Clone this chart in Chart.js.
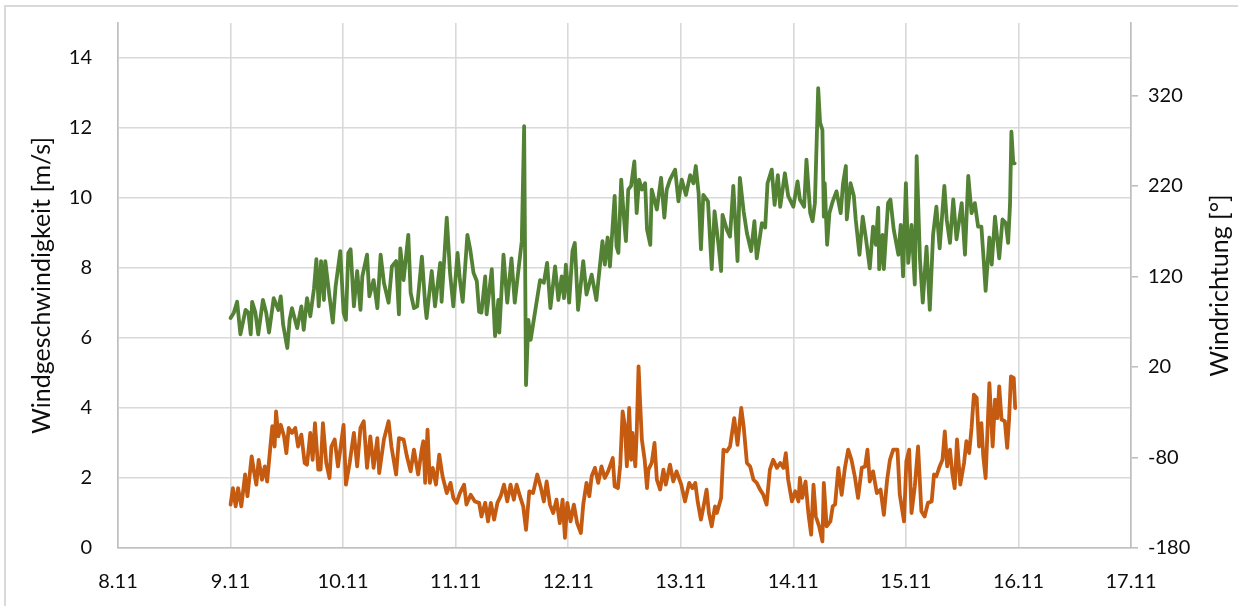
<!DOCTYPE html>
<html>
<head>
<meta charset="utf-8">
<script src="https://cdn.jsdelivr.net/npm/chart.js@4/dist/chart.umd.min.js"></script>
<style>
  body { margin: 0; background: #fff; }
  #wrap { position: relative; width: 1238px; height: 606px; overflow: hidden; background: #fff; }
  #frame { position: absolute; left: 4px; top: 5px; width: 1260px; height: 640px; border: 2px solid #d9d9d9; }
  canvas { position: absolute; left: 0; top: 0; }
</style>
</head>
<body>
<div id="wrap"><div id="frame"></div><canvas id="chart" width="1238" height="606"></canvas></div>
<script>
// x axis: days 8.11 .. 17.11, data time in hours since 9.11 00:00
const dayLabels = ['8.11', '9.11', '10.11', '11.11', '12.11', '13.11', '14.11', '15.11', '16.11', '17.11'];
const speedTicks = [0, 2, 4, 6, 8, 10, 12, 14];
const dirTicks = [-180, -80, 20, 120, 220, 320];

// Windgeschwindigkeit [m/s] (orange)
const speedHours = [0,0.5,1.1,1.6,2.3,3.1,3.6,4.5,5.0,5.5,6.0,6.7,7.3,7.8,8.3,8.9,9.4,9.7,10.2,10.7,11.4,11.9,12.4,13.1,13.8,14.4,15.1,15.8,16.3,17.0,17.5,18.0,18.7,19.2,19.7,20.4,21.1,21.5,22.2,22.9,23.4,24.1,24.6,25.4,26.3,27.0,27.7,28.4,29.1,29.8,30.5,31.3,31.7,32.7,33.7,34.3,35.3,35.9,36.9,37.6,38.4,39.1,40.0,40.8,41.1,41.5,42.0,42.5,43.1,43.8,44.5,45.2,46.1,46.9,47.5,48.2,48.9,49.8,50.3,51.2,52.1,53.0,53.5,54.3,54.9,55.5,56.2,56.9,57.6,58.3,59.0,59.7,60.4,61.0,61.7,62.4,63.0,63.7,64.5,65.4,66.1,66.8,67.4,68.1,68.8,69.5,70.2,70.8,71.3,71.8,72.5,73.2,73.9,74.7,75.2,75.9,76.5,77.0,77.7,78.4,79.1,79.8,80.5,81.5,81.9,82.6,83.1,83.6,84.1,84.5,85.0,85.4,85.7,86.3,86.6,87.0,87.3,87.7,88.3,88.8,89.1,89.8,90.4,90.9,91.6,92.3,92.8,93.7,94.4,95.1,96.1,96.9,97.8,98.5,99.1,99.6,100.3,101.0,101.5,102.0,102.6,103.3,103.7,104.6,105.1,105.8,106.5,107.4,108.1,108.9,109.4,110.1,110.8,111.5,112.2,112.9,113.6,114.3,115.0,115.7,116.5,117.2,117.9,118.4,118.9,119.7,120.4,121.1,121.4,121.9,122.6,123.2,123.8,124.3,124.8,125.5,126.2,126.5,127.1,127.9,128.4,128.9,129.6,130.3,131.0,131.7,132.4,133.1,133.8,134.6,135.3,135.8,136.3,137.0,137.8,138.6,139.3,140.0,140.6,141.3,142.2,142.7,143.6,144.1,144.7,145.2,145.9,146.6,147.3,148.0,148.7,149.5,150.0,150.5,151.2,151.8,152.3,152.8,153.4,153.9,154.4,154.9,155.6,156.4,156.9,157.5,158.0,158.5,159.1,159.6,160.1,160.5,161.0,161.8,162.5,163.0,163.5,163.9,164.4,165.1,165.6,166.0,166.4,167.0,167.3];
const speedValues = [1.24,1.71,1.19,1.71,1.19,2.10,1.48,2.62,2.19,1.81,2.52,1.95,2.33,1.90,2.62,3.48,2.90,3.90,3.19,3.52,3.19,2.71,3.43,3.29,3.43,2.90,3.24,2.43,2.38,3.29,2.52,3.57,2.24,2.24,3.57,2.43,2.00,2.90,3.10,2.33,2.81,3.52,1.81,2.43,3.29,2.33,3.43,3.62,2.29,3.19,2.29,3.14,2.14,3.10,3.62,2.90,2.10,3.14,3.10,2.62,2.19,2.81,2.10,2.85,3.05,1.86,3.38,1.86,2.29,1.81,2.67,2.05,1.57,1.86,1.43,1.29,1.57,1.81,1.24,1.52,1.33,1.29,0.90,1.29,0.76,1.29,0.81,1.29,1.48,1.81,1.33,1.81,1.38,1.81,1.48,1.19,0.52,1.62,1.57,2.10,1.76,1.33,1.90,1.24,1.00,1.38,0.71,1.38,0.29,1.29,0.76,1.24,0.71,0.43,1.24,1.86,1.48,2.05,2.29,1.86,2.33,2.00,2.19,2.57,1.76,1.71,2.38,3.90,3.48,2.33,4.00,2.52,3.29,2.33,3.29,5.19,4.24,3.10,2.52,1.71,2.24,2.43,3.00,1.95,1.67,2.24,1.81,2.38,1.90,2.19,1.81,1.33,1.86,1.71,1.86,1.33,0.81,1.29,1.67,1.00,0.62,1.19,1.00,1.43,2.81,2.76,2.90,3.71,2.95,4.00,3.48,2.43,2.33,1.95,1.86,1.67,1.52,1.24,2.24,2.52,2.29,2.43,2.29,2.71,1.95,1.33,1.62,1.33,2.00,1.43,1.90,1.00,0.38,1.81,0.90,0.62,0.19,1.86,0.62,0.76,1.19,1.24,2.29,1.52,2.29,2.81,2.52,2.05,1.43,2.29,2.33,2.81,1.90,2.19,1.57,1.67,0.95,1.95,2.52,2.81,2.81,1.52,0.76,2.48,2.81,1.00,1.76,2.90,1.05,0.90,1.29,1.33,2.10,2.05,2.33,2.52,3.33,2.33,2.81,2.14,1.71,3.10,1.81,2.43,3.05,2.71,3.43,4.38,4.29,2.90,3.57,2.62,2.00,4.71,2.90,4.24,3.71,4.62,3.67,3.62,2.86,3.67,4.90,4.86,4.00];

// Windrichtung [°] (green)
const dirHours = [0,0.7,1.4,2.1,3.2,3.8,4.3,4.6,5.3,5.9,6.9,7.6,8.2,9.2,10.2,10.7,11.2,12.1,12.6,13.1,14.2,15.1,15.6,16.3,17.0,17.8,18.3,18.8,19.3,19.9,20.2,21.0,21.8,22.4,23.4,24.1,24.6,25.1,25.6,26.3,27.0,27.7,28.1,29.1,29.6,30.5,31.3,32.0,32.7,33.7,34.4,35.3,35.9,36.2,36.9,37.9,38.4,39.1,39.8,40.8,41.5,41.8,42.9,43.6,44.7,45.0,46.1,46.8,47.5,48.4,48.9,49.5,50.5,51.1,51.8,52.5,53.0,53.5,54.3,54.6,55.7,56.4,57.1,57.3,58.2,59.0,59.9,60.6,61.4,62.1,62.6,63.0,63.5,64.0,64.9,66.0,66.8,67.5,68.2,69.2,69.9,70.6,71.1,71.5,72.2,72.9,73.4,74.1,75.2,75.9,77.0,78.0,79.3,79.8,80.4,80.9,81.9,82.3,82.7,83.3,83.8,84.3,84.8,85.4,86.1,86.6,87.1,87.7,88.4,88.8,89.5,89.8,90.9,91.8,92.5,93.0,93.7,94.8,95.5,96.2,97.1,98.0,98.7,99.2,99.8,100.3,100.8,101.8,102.6,103.2,104.0,104.6,104.9,105.8,106.5,107.2,108.1,108.6,109.4,110.1,111.0,111.7,112.2,113.3,114.0,114.5,115.4,116.0,116.7,117.2,118.2,118.9,120.0,120.9,121.4,122.3,122.8,123.6,124.1,124.6,125.3,125.7,126.2,126.5,126.7,127.2,127.7,128.4,129.2,130.1,130.6,131.2,131.4,132.2,132.9,133.3,134.1,134.8,135.5,136.3,137.0,137.6,138.1,138.3,139.0,139.3,140.2,140.7,141.4,142.4,142.9,143.4,144.0,144.5,145.2,145.9,146.3,147.0,147.6,148.4,149.1,149.8,150.5,151.2,152.2,152.7,153.4,154.1,154.8,155.9,156.6,157.3,158.0,158.7,159.4,160.1,160.6,161.0,161.8,162.3,163.0,163.9,164.6,165.3,165.8,166.2,166.5,166.9,167.2];
const dirValues = [74,80,92,56,83,80,56,92,80,56,94,80,58,96,83,98,67,41,72,85,63,87,61,96,76,107,139,87,137,94,137,102,69,109,148,80,72,146,150,87,126,83,120,144,98,116,85,144,113,91,131,137,78,151,116,166,102,85,87,142,89,74,126,87,135,92,185,124,87,146,116,92,166,150,124,115,81,80,120,78,128,54,94,58,144,91,140,91,128,159,286,0,72,50,80,116,113,135,85,131,94,120,96,133,91,148,157,83,137,100,122,94,159,133,163,131,209,153,146,227,190,159,216,220,247,190,227,216,223,172,155,216,194,229,185,216,227,238,203,227,210,232,223,242,212,150,210,203,128,192,157,126,188,172,164,220,137,229,192,168,148,181,140,179,174,223,238,199,232,197,234,209,197,225,205,197,249,190,181,201,328,290,282,186,223,155,190,203,214,190,223,242,183,223,209,183,144,186,161,129,175,155,196,128,166,128,201,205,172,144,177,120,223,135,177,111,253,139,91,153,83,166,197,151,220,183,157,205,161,201,144,231,190,201,175,175,137,104,163,133,186,140,183,179,157,199,280,245,245];

// hours since 8.11 00:00 on the x axis
const speedData = speedHours.map((h, i) => ({ x: 24 + h, y: speedValues[i] }));
const dirData = dirHours.map((h, i) => ({ x: 24 + h, y: dirValues[i] }));

const FONT = 'Lato';
const TEXT = '#0d0d0d';

// no label padding from the scales, the chart area is fixed by the layout
function noPad(s) {
  s.paddingTop = 0;
  s.paddingBottom = 0;
  s.paddingLeft = 0;
  s.paddingRight = 0;
}

const rightTitle = {
  id: 'rightTitle',
  afterDraw(chart) {
    const { ctx, chartArea } = chart;
    const sc = chart.scales.y1;
    ctx.save();
    ctx.translate(sc.right - 18, (chartArea.top + chartArea.bottom) / 2);
    ctx.rotate(-Math.PI / 2);
    ctx.font = '25px ' + FONT;
    ctx.fillStyle = TEXT;
    ctx.textAlign = 'center';
    ctx.textBaseline = 'middle';
    ctx.fillText('Windrichtung [°]', 0, 0);
    ctx.restore();
  }
};

new Chart(document.getElementById('chart'), {
  type: 'line',
  data: {
    datasets: [
      {
        label: 'Windrichtung',
        data: dirData,
        yAxisID: 'y1',
        borderColor: '#548235',
        borderWidth: 3.8,
        pointRadius: 0,
        tension: 0,
        borderJoinStyle: 'round',
        borderCapStyle: 'round'
      },
      {
        label: 'Windgeschwindigkeit',
        data: speedData,
        yAxisID: 'y',
        borderColor: '#C55A11',
        borderWidth: 3.8,
        pointRadius: 0,
        tension: 0,
        borderJoinStyle: 'round',
        borderCapStyle: 'round'
      }
    ]
  },
  options: {
    responsive: false,
    animation: false,
    layout: { padding: { top: 23, left: 0, right: 0, bottom: 0 } },
    plugins: { legend: { display: false }, tooltip: { enabled: false } },
    scales: {
      x: {
        type: 'linear',
        position: 'bottom',
        min: 0,
        max: 216,
        afterBuildTicks: (s) => { s.ticks = dayLabels.map((_, i) => ({ value: i * 24 })); },
        afterFit: (s) => { s.height = 58; noPad(s); },
        ticks: {
          callback: (v) => dayLabels[Math.round(v / 24)],
          font: { family: FONT, size: 20 },
          color: TEXT,
          padding: 22,
          maxRotation: 0,
          autoSkip: false
        },
        grid: { color: '#d9d9d9', lineWidth: 1.6, drawTicks: false },
        border: { color: '#bfbfbf', width: 1.6 }
      },
      y: {
        position: 'left',
        min: 0,
        max: 15,
        afterBuildTicks: (s) => { s.ticks = speedTicks.map(v => ({ value: v })); },
        afterFit: (s) => { s.width = 118; noPad(s); },
        ticks: {
          font: { family: FONT, size: 20 },
          color: TEXT,
          padding: 26
        },
        grid: { color: '#d9d9d9', lineWidth: 1.6, drawTicks: false },
        border: { color: '#bfbfbf', width: 1.6 },
        title: {
          display: true,
          text: 'Windgeschwindigkeit [m/s]',
          font: { family: FONT, size: 25 },
          color: TEXT,
          padding: { top: 27, bottom: 0 }
        }
      },
      y1: {
        position: 'right',
        min: -180,
        max: 400,
        afterBuildTicks: (s) => { s.ticks = dirTicks.map(v => ({ value: v })); },
        afterFit: (s) => { s.width = 107; noPad(s); },
        ticks: {
          font: { family: FONT, size: 20 },
          color: TEXT,
          padding: 10
        },
        grid: { drawOnChartArea: false, drawTicks: true, tickLength: 7, color: '#bfbfbf', lineWidth: 1.6 },
        border: { color: '#bfbfbf', width: 1.6 }
      }
    }
  },
  plugins: [rightTitle]
});
</script>
</body>
</html>
